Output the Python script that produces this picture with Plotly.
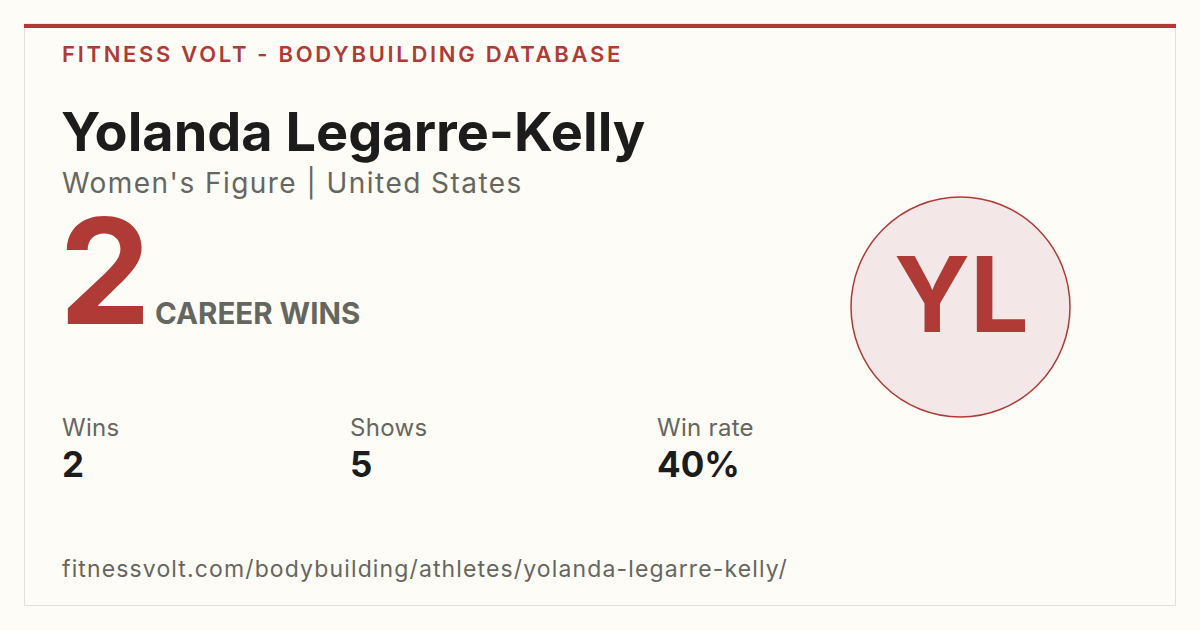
import plotly.graph_objects as go

W, H = 1200, 630
brand = "FITNESS VOLT - BODYBUILDING DATABASE"
athlete = "Yolanda Legarre-Kelly"
subtitle = "Women's Figure | United States"
career_wins = 2
career_label = "CAREER WINS"
stat_labels = ["Wins", "Shows", "Win rate"]
stat_values = ["2", "5", "40%"]
stat_x = [61, 349, 656]
initials = "YL"
url = "fitnessvolt.com/bodybuilding/athletes/yolanda-legarre-kelly/"

RED = "#b03a36"
DARK = "#1c1c1c"
GRAY = "#666660"
BG = "#fdfcf7"
FONT = "Inter"

fig = go.Figure()
fig.add_trace(go.Scatter(x=[0, W], y=[0, H], mode="markers", marker=dict(opacity=0), hoverinfo="skip", showlegend=False))

shapes = [
    dict(type="rect", x0=24.5, y0=24, x1=1175.5, y1=605.5, line=dict(color="#e2e0da", width=1), fillcolor=BG, layer="below"),
    dict(type="rect", x0=24, y0=24, x1=1176, y1=28, line=dict(width=0), fillcolor=RED, layer="below"),
    dict(type="circle", x0=851, y0=197, x1=1070, y1=417, line=dict(color=RED, width=1.5), fillcolor="#f3e8e7", layer="below"),
]

ann = []
def txt(x, y, s, size, color, weight="normal", xanchor="left", spacing=None):
    if spacing is not None:
        s = f"<span style='letter-spacing:{spacing}px'>{s}</span>"
    ann.append(dict(x=x, y=y, text=s, showarrow=False, xanchor=xanchor, yanchor="middle",
                    font=dict(family=FONT, size=size, color=color, weight=weight)))

txt(60, 54, brand, 22, RED, 600, spacing=2.7)
txt(59, 131, athlete, 54, DARK, "bold")
txt(60, 183, subtitle, 28, GRAY, spacing=1.45)
txt(57, 271, str(career_wins), 146, RED, "bold")
txt(153, 313, career_label, 29.5, GRAY, "bold")
for lx, lab, val in zip(stat_x, stat_labels, stat_values):
    txt(lx - 1, 427, lab, 24, GRAY, spacing=0.3)
    txt(lx - 1, 464, val, 35, DARK, "bold")
txt(60, 569, url, 23, GRAY, spacing=1.13)
txt(961, 294, initials, 104, RED, "bold", xanchor="center")

fig.update_layout(
    width=W, height=H, margin=dict(l=0, r=0, t=0, b=0),
    paper_bgcolor=BG, plot_bgcolor=BG, showlegend=False,
    xaxis=dict(range=[0, W], visible=False, fixedrange=True),
    yaxis=dict(range=[H, 0], visible=False, fixedrange=True),
    shapes=shapes, annotations=ann,
)
fig.write_html("out.html", config={"displayModeBar": False},
               post_script="document.body.style.margin='0';")
